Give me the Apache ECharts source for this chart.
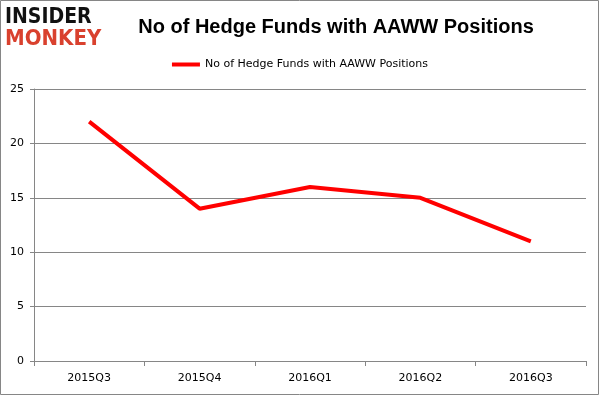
<!DOCTYPE html>
<html><head><meta charset="utf-8">
<script src="https://cdn.jsdelivr.net/npm/echarts@6/dist/echarts.min.js"></script>
<style>html,body{margin:0;padding:0;background:#fff}#c{width:600px;height:396px}</style>
</head><body><div id="c"></div>
<script>
const categories = ['2015Q3','2015Q4','2016Q1','2016Q2','2016Q3'];
const hedgeFunds = [22, 14, 16, 15, 11];
const seriesName = 'No of Hedge Funds with AAWW Positions';
const yTicks = {min: 0, max: 25, interval: 5};

const chart = echarts.init(document.getElementById('c'), null, {renderer: 'canvas'});
chart.setOption({
  animation: false,
  backgroundColor: '#fff',
  title: {
    text: seriesName, left: 331, top: 12, textAlign: 'center',
    textStyle: {fontFamily: 'Liberation Sans, Arial', fontWeight: 'bold', fontSize: 20, color: '#000'}
  },
  legend: {
    data: [seriesName], top: 54, left: 'center',
    itemWidth: 28, itemHeight: 4, itemGap: 2,
    textStyle: {fontFamily: 'DejaVu Sans', fontSize: 11, color: '#000'},
    icon: 'rect'
  },
  grid: {left: 34, right: 14, top: 89, bottom: 35},
  xAxis: {
    type: 'category', data: categories, boundaryGap: true,
    axisLine: {lineStyle: {color: '#868686', width: 1}},
    axisTick: {show: true, length: 5, lineStyle: {color: '#868686'}},
    axisLabel: {color: '#000', fontFamily: 'DejaVu Sans', fontSize: 11, margin: 12}
  },
  yAxis: {
    type: 'value', min: yTicks.min, max: yTicks.max, interval: yTicks.interval,
    axisLine: {show: true, lineStyle: {color: '#868686'}},
    axisTick: {show: true, length: 4, lineStyle: {color: '#868686'}},
    splitLine: {lineStyle: {color: '#868686', width: 1}},
    axisLabel: {color: '#000', fontFamily: 'DejaVu Sans', fontSize: 11, margin: 10}
  },
  series: [{
    name: seriesName, type: 'line', data: hedgeFunds,
    showSymbol: false, symbol: 'none',
    lineStyle: {color: '#ff0000', width: 4},
    itemStyle: {color: '#ff0000'}
  }],
  graphic: [
    {type: 'rect', shape: {x: 0.5, y: 0.5, width: 598, height: 394}, style: {fill: 'none', stroke: '#868686', lineWidth: 1}, silent: true, z: 100},
    {type: 'text', x: 5, y: 7, style: {text: 'INSIDER', fill: '#111', font: 'bold 21px "DejaVu Sans Condensed", "DejaVu Sans"'}},
    {type: 'text', x: 5, y: 28, style: {text: 'MONKEY', fill: '#d9412e', font: 'bold 22px "DejaVu Sans Condensed", "DejaVu Sans"'}}
  ]
});
</script></body></html>
